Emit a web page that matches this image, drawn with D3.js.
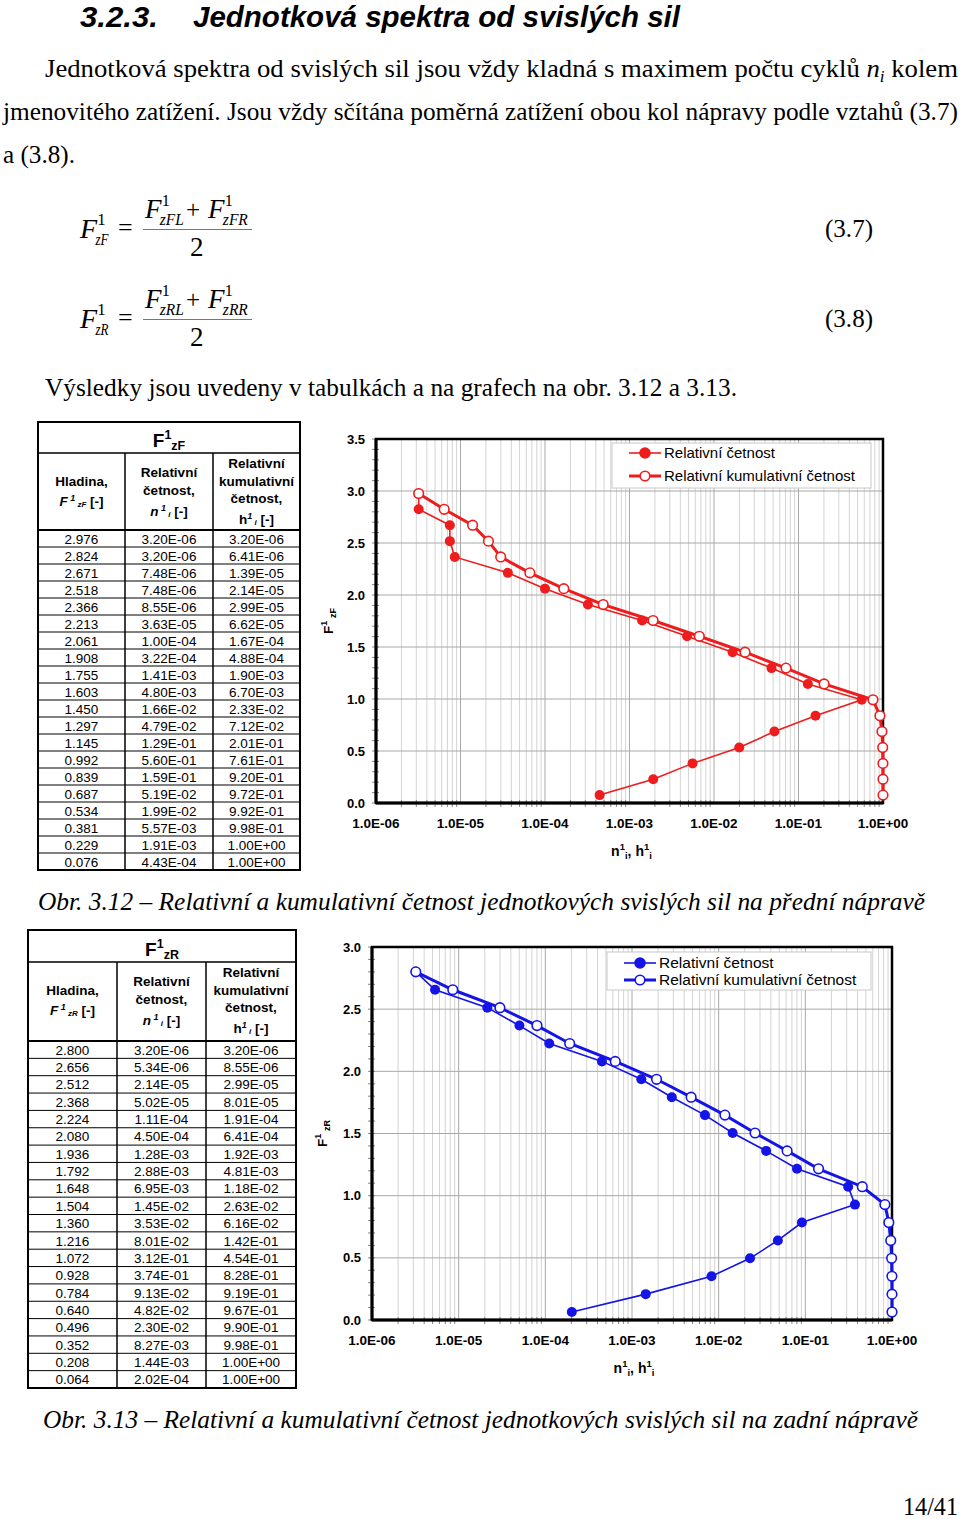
<!DOCTYPE html>
<html><head><meta charset="utf-8">
<script src="https://cdn.jsdelivr.net/npm/d3@7"></script>
<style>body{margin:0;background:#fff}svg{display:block}</style>
</head><body>
<script>
// ---------- DATA ----------
const levelsF = [2.976,2.824,2.671,2.518,2.366,2.213,2.061,1.908,1.755,1.603,1.450,1.297,1.145,0.992,0.839,0.687,0.534,0.381,0.229,0.076];
const nF = ["3.20E-06","3.20E-06","7.48E-06","7.48E-06","8.55E-06","3.63E-05","1.00E-04","3.22E-04","1.41E-03","4.80E-03","1.66E-02","4.79E-02","1.29E-01","5.60E-01","1.59E-01","5.19E-02","1.99E-02","5.57E-03","1.91E-03","4.43E-04"];
const hF = ["3.20E-06","6.41E-06","1.39E-05","2.14E-05","2.99E-05","6.62E-05","1.67E-04","4.88E-04","1.90E-03","6.70E-03","2.33E-02","7.12E-02","2.01E-01","7.61E-01","9.20E-01","9.72E-01","9.92E-01","9.98E-01","1.00E+00","1.00E+00"];
const levelsR = [2.800,2.656,2.512,2.368,2.224,2.080,1.936,1.792,1.648,1.504,1.360,1.216,1.072,0.928,0.784,0.640,0.496,0.352,0.208,0.064];
const nR = ["3.20E-06","5.34E-06","2.14E-05","5.02E-05","1.11E-04","4.50E-04","1.28E-03","2.88E-03","6.95E-03","1.45E-02","3.53E-02","8.01E-02","3.12E-01","3.74E-01","9.13E-02","4.82E-02","2.30E-02","8.27E-03","1.44E-03","2.02E-04"];
const hR = ["3.20E-06","8.55E-06","2.99E-05","8.01E-05","1.91E-04","6.41E-04","1.92E-03","4.81E-03","1.18E-02","2.63E-02","6.16E-02","1.42E-01","4.54E-01","8.28E-01","9.19E-01","9.67E-01","9.90E-01","9.98E-01","1.00E+00","1.00E+00"];
const xTickExps = [-6,-5,-4,-3,-2,-1,0];
const yTicksF = [0,0.5,1.0,1.5,2.0,2.5,3.0,3.5];
const yTicksR = [0,0.5,1.0,1.5,2.0,2.5,3.0];
const legendLabels = ["Relativní četnost","Relativní kumulativní četnost"];

// ---------- PAGE ----------
const svg = d3.select("body").append("svg").attr("width",960).attr("height",1519);
const serif = "'Liberation Serif','Times New Roman',serif";
const sans = "'Liberation Sans',Arial,sans-serif";

function txt(x,y,s,opt={}){
  const t = svg.append("text").attr("x",x).attr("y",y)
    .attr("font-family",opt.family||serif).attr("font-size",opt.size||25)
    .attr("fill","#000");
  if(opt.style) t.attr("font-style",opt.style);
  if(opt.weight) t.attr("font-weight",opt.weight);
  if(opt.len){ t.attr("textLength",opt.len).attr("lengthAdjust","spacingAndGlyphs"); }
  if(opt.anchor) t.attr("text-anchor",opt.anchor);
  t.text(s);
  return t;
}

// Title
txt(80,27,"3.2.3.",{family:sans,size:29,style:"italic",weight:"bold",len:78});
txt(193,27,"Jednotková spektra od svislých sil",{family:sans,size:29,style:"italic",weight:"bold",len:487});

// Paragraph
{
  const t = svg.append("text").attr("x",45).attr("y",77).attr("font-family",serif).attr("font-size",25)
    .attr("textLength",913).attr("lengthAdjust","spacingAndGlyphs");
  t.append("tspan").text("Jednotková spektra od svislých sil jsou vždy kladná s maximem počtu cyklů ");
  t.append("tspan").attr("font-style","italic").text("n");
  t.append("tspan").attr("font-style","italic").attr("font-size",16).attr("dy",5).text("i");
  t.append("tspan").attr("dy",-5).text(" kolem");
}
txt(3,120,"jmenovitého zatížení. Jsou vždy sčítána poměrná zatížení obou kol nápravy podle vztahů (3.7)",{len:955});
txt(3,163,"a (3.8).",{len:72});

// Equations
function Fsym(x,y,sub,size,subLen){
  const t = svg.append("text").attr("x",x).attr("y",y).attr("font-family",serif).attr("font-size",size);
  t.append("tspan").attr("font-style","italic").text("F");
  t.append("tspan").attr("x",x+size*0.62).attr("dy",-size*0.45).attr("font-size",size*0.6).text("1");
  t.append("tspan").attr("x",x+size*0.55).attr("dy",size*0.7).attr("font-size",size*0.6).attr("font-style","italic")
    .attr("textLength",subLen).attr("lengthAdjust","spacingAndGlyphs").text(sub);
}
function equation(y0, lhs, a, b, num){
  Fsym(80,y0+38,lhs,28,13);
  txt(118,y0+36,"=",{size:26});
  Fsym(145,y0+18,a,27,24);
  txt(186,y0+18,"+",{size:25});
  Fsym(208,y0+18,b,27,25);
  svg.append("line").attr("x1",143).attr("x2",252).attr("y1",y0+29.5).attr("y2",y0+29.5).attr("stroke","#777").attr("stroke-width",1);
  txt(190,y0+56,"2",{size:27});
  txt(825,y0+37,num,{size:25,len:48});
}
equation(200,"zF","zFL","zFR","(3.7)");
equation(290,"zR","zRL","zRR","(3.8)");

txt(45,396,"Výsledky jsou uvedeny v tabulkách a na grafech na obr. 3.12 a 3.13.",{len:692});

// ---------- TABLES ----------
function table(cfg){
  const g = svg.append("g");
  const {L,R,T,B,c1,c2,h1,h2,sub,levels,n,h,hy} = cfg;
  const rows = levels.map((l,i)=>[l.toFixed(3),n[i],h[i]]);
  const rowH = (B-h2)/rows.length;
  rows.forEach((r,i)=>{
    if(i>0) g.append("line").attr("x1",L).attr("x2",R).attr("y1",h2+i*rowH).attr("y2",h2+i*rowH).attr("stroke","#000").attr("stroke-width",1);
  });
  g.append("rect").attr("x",L).attr("y",T).attr("width",R-L).attr("height",B-T).attr("fill","none").attr("stroke","#000").attr("stroke-width",2);
  g.append("line").attr("x1",L).attr("x2",R).attr("y1",h1).attr("y2",h1).attr("stroke","#000").attr("stroke-width",1.5);
  g.append("line").attr("x1",L).attr("x2",R).attr("y1",h2).attr("y2",h2).attr("stroke","#000").attr("stroke-width",2);
  [c1,c2].forEach(c=>g.append("line").attr("x1",c).attr("x2",c).attr("y1",h1).attr("y2",B).attr("stroke","#000").attr("stroke-width",1.5));
  // big header
  const ht = g.append("text").attr("x",(L+R)/2).attr("y",hy).attr("text-anchor","middle").attr("font-family",sans).attr("font-weight","bold").attr("font-size",19);
  ht.append("tspan").text("F");
  ht.append("tspan").attr("font-size",12.5).attr("dy",-8).text("1");
  ht.append("tspan").attr("font-size",12.5).attr("dy",11).text(sub);
  const m1=(L+c1)/2, m2=(c1+c2)/2, m3=(c2+R)/2;
  const st = (x,y,s)=>g.append("text").attr("x",x).attr("y",y).attr("text-anchor","middle").attr("font-family",sans).attr("font-weight","bold").attr("font-size",13.5).text(s);
  const top = h1;
  st(m1,top+33,"Hladina,");
  {
    const t = g.append("text").attr("x",m1).attr("y",top+53).attr("text-anchor","middle").attr("font-family",sans).attr("font-weight","bold").attr("font-size",13.5);
    t.append("tspan").attr("font-style","italic").text("F");
    t.append("tspan").attr("font-style","italic").attr("font-size",9).attr("dy",-5).text(" 1");
    t.append("tspan").attr("font-style","italic").attr("font-size",8).attr("dy",6).text(" "+sub);
    t.append("tspan").attr("dy",-1).text("  [-]");
  }
  st(m2,top+24,"Relativní"); st(m2,top+42,"četnost,");
  {
    const t = g.append("text").attr("x",m2).attr("y",top+63).attr("text-anchor","middle").attr("font-family",sans).attr("font-weight","bold").attr("font-size",13.5);
    t.append("tspan").attr("font-style","italic").text("n");
    t.append("tspan").attr("font-style","italic").attr("font-size",9).attr("dy",-5).text(" 1");
    t.append("tspan").attr("font-style","italic").attr("font-size",8).attr("dy",6).text(" i");
    t.append("tspan").attr("dy",-1).text("  [-]");
  }
  st(m3,top+15,"Relativní"); st(m3,top+33,"kumulativní"); st(m3,top+50,"četnost,");
  {
    const t = g.append("text").attr("x",m3).attr("y",top+71).attr("text-anchor","middle").attr("font-family",sans).attr("font-weight","bold").attr("font-size",13.5);
    t.append("tspan").text("h");
    t.append("tspan").attr("font-style","italic").attr("font-size",9).attr("dy",-5).text("1");
    t.append("tspan").attr("font-style","italic").attr("font-size",8).attr("dy",6).text(" i");
    t.append("tspan").attr("dy",-1).text("  [-]");
  }
  const mids=[m1,m2,m3];
  rows.forEach((r,i)=>{
    r.forEach((s,j)=>{
      g.append("text").attr("x",mids[j]).attr("y",h2+i*rowH+rowH/2+5).attr("text-anchor","middle")
        .attr("font-family",sans).attr("font-size",13.5).text(s);
    });
  });
}
table({L:38,R:300,T:422,B:870,c1:125,c2:213,h1:453,h2:530,hy:447,sub:"zF",levels:levelsF,n:nF,h:hF});
table({L:28,R:296,T:930,B:1388,c1:117,c2:206,h1:962,h2:1041,hy:956,sub:"zR",levels:levelsR,n:nR,h:hR});

// ---------- CHARTS ----------
function fmtE(e){ return "1.0E" + (e<0?"-":"+") + String(Math.abs(e)).padStart(2,"0"); }
function chart(cfg){
  const g = svg.append("g");
  const x = d3.scaleLog().domain([1e-6,1]).range([cfg.left,cfg.right]);
  const y = d3.scaleLinear().domain([0,cfg.yMax]).range([cfg.bottom,cfg.top]);
  const minors = [];
  xTickExps.slice(0,-1).forEach(e=>{ for(let k=2;k<10;k++) minors.push(k*Math.pow(10,e)); });
  g.selectAll(".vm").data(minors).join("line").attr("x1",d=>x(d)).attr("x2",d=>x(d))
    .attr("y1",cfg.top).attr("y2",cfg.bottom).attr("stroke","#d4d4d4").attr("stroke-width",1);
  g.selectAll(".vM").data(xTickExps.map(e=>Math.pow(10,e))).join("line").attr("x1",d=>x(d)).attr("x2",d=>x(d))
    .attr("y1",cfg.top).attr("y2",cfg.bottom).attr("stroke","#a8a8a8").attr("stroke-width",1);
  g.selectAll(".hM").data(cfg.yTicks).join("line").attr("x1",cfg.left).attr("x2",cfg.right)
    .attr("y1",d=>y(d)).attr("y2",d=>y(d)).attr("stroke","#a8a8a8").attr("stroke-width",1);
  const ym = d3.range(0, Math.round(cfg.yMax*10)+1).map(i=>i/10);
  g.selectAll(".ym").data(ym).join("line").attr("x1",cfg.left-4).attr("x2",cfg.left+3)
    .attr("y1",d=>y(d)).attr("y2",d=>y(d)).attr("stroke","#888").attr("stroke-width",1);
  g.selectAll(".xm").data(minors).join("line").attr("x1",d=>x(d)).attr("x2",d=>x(d))
    .attr("y1",cfg.bottom-3).attr("y2",cfg.bottom+4).attr("stroke","#888").attr("stroke-width",1);
  g.append("rect").attr("x",cfg.left).attr("y",cfg.top).attr("width",cfg.right-cfg.left).attr("height",cfg.bottom-cfg.top)
    .attr("fill","none").attr("stroke","#000").attr("stroke-width",2.5);
  g.append("line").attr("x1",cfg.left).attr("x2",cfg.left).attr("y1",cfg.top).attr("y2",cfg.bottom).attr("stroke","#000").attr("stroke-width",3);
  g.append("line").attr("x1",cfg.left).attr("x2",cfg.right).attr("y1",cfg.bottom).attr("y2",cfg.bottom).attr("stroke","#000").attr("stroke-width",3);
  g.selectAll(".yl").data(cfg.yTicks).join("text").attr("x",cfg.left-11).attr("y",d=>y(d)+4.5)
    .attr("text-anchor","end").attr("font-family",sans).attr("font-weight","bold").attr("font-size",13).text(d=>d.toFixed(1));
  g.selectAll(".xl").data(xTickExps).join("text").attr("x",e=>x(Math.pow(10,e))).attr("y",cfg.bottom+25)
    .attr("text-anchor","middle").attr("font-family",sans).attr("font-weight","bold").attr("font-size",13.5).text(fmtE);
  const xt = g.append("text").attr("x",(cfg.left+cfg.right)/2+2).attr("y",cfg.bottom+53).attr("text-anchor","middle")
    .attr("font-family",sans).attr("font-weight","bold").attr("font-size",14);
  xt.append("tspan").text("n"); xt.append("tspan").attr("font-size",9.5).attr("dy",-6).text("1");
  xt.append("tspan").attr("font-size",9.5).attr("dy",9).text("i"); xt.append("tspan").attr("dy",-3).text(", h");
  xt.append("tspan").attr("font-size",9.5).attr("dy",-6).text("1"); xt.append("tspan").attr("font-size",9.5).attr("dy",9).text("i");
  const yt = g.append("text").attr("transform",`translate(${cfg.ylabX},${(cfg.top+cfg.bottom)/2}) rotate(-90)`).attr("text-anchor","middle")
    .attr("font-family",sans).attr("font-weight","bold").attr("font-size",13.5);
  yt.append("tspan").text("F"); yt.append("tspan").attr("font-size",9).attr("dy",-6).text("1");
  yt.append("tspan").attr("font-size",9).attr("dy",9).text(" "+cfg.sub);
  const line = d3.line().x(d=>x(d[0])).y(d=>y(d[1]));
  const sN = cfg.n.map((v,i)=>[+v,cfg.levels[i]]);
  const sH = cfg.h.map((v,i)=>[+v,cfg.levels[i]]);
  g.append("path").attr("d",line(sN)).attr("fill","none").attr("stroke",cfg.color).attr("stroke-width",1.6);
  g.selectAll(".pn").data(sN).join("circle").attr("cx",d=>x(d[0])).attr("cy",d=>y(d[1])).attr("r",5).attr("fill",cfg.color);
  g.append("path").attr("d",line(sH)).attr("fill","none").attr("stroke",cfg.color).attr("stroke-width",3);
  g.selectAll(".ph").data(sH).join("circle").attr("cx",d=>x(d[0])).attr("cy",d=>y(d[1])).attr("r",4.8)
    .attr("fill","#fff").attr("stroke",cfg.color).attr("stroke-width",1.6);
  const lg = cfg.legend;
  g.append("rect").attr("x",lg.x).attr("y",lg.y).attr("width",lg.w).attr("height",lg.h).attr("fill","#fff").attr("stroke","#c8c8c8").attr("stroke-width",1);
  legendLabels.forEach((s,i)=>{
    const yy = lg.y+lg.dy0+i*lg.dy;
    g.append("line").attr("x1",lg.x+17).attr("x2",lg.x+49).attr("y1",yy).attr("y2",yy).attr("stroke",cfg.color).attr("stroke-width",i?3:1.6);
    g.append("circle").attr("cx",lg.x+33).attr("cy",yy).attr("r",i?4.8:5).attr("fill",i?"#fff":cfg.color).attr("stroke",cfg.color).attr("stroke-width",1.6);
    g.append("text").attr("x",lg.x+52).attr("y",yy+5).attr("font-family",sans).attr("font-size",lg.fs).text(s);
  });
}
chart({left:376,right:883,top:439,bottom:803,yMax:3.5,yTicks:yTicksF,color:"#ee1c1c",levels:levelsF,n:nF,h:hF,sub:"zF",ylabX:333,
  legend:{x:612,y:443,w:259,h:45,dy0:10,dy:23,fs:15}});
chart({left:372,right:892,top:947,bottom:1320,yMax:3.0,yTicks:yTicksR,color:"#1414e6",levels:levelsR,n:nR,h:hR,sub:"zR",ylabX:327,
  legend:{x:607,y:952,w:264,h:38,dy0:11,dy:17,fs:15.5}});

// Captions
txt(38,910,"Obr. 3.12 – Relativní a kumulativní četnost jednotkových svislých sil na přední nápravě",{style:"italic",len:887});
txt(43,1428,"Obr. 3.13 – Relativní a kumulativní četnost jednotkových svislých sil na zadní nápravě",{style:"italic",len:875});
txt(903,1515,"14/41",{size:25,len:55});
</script>
</body></html>
